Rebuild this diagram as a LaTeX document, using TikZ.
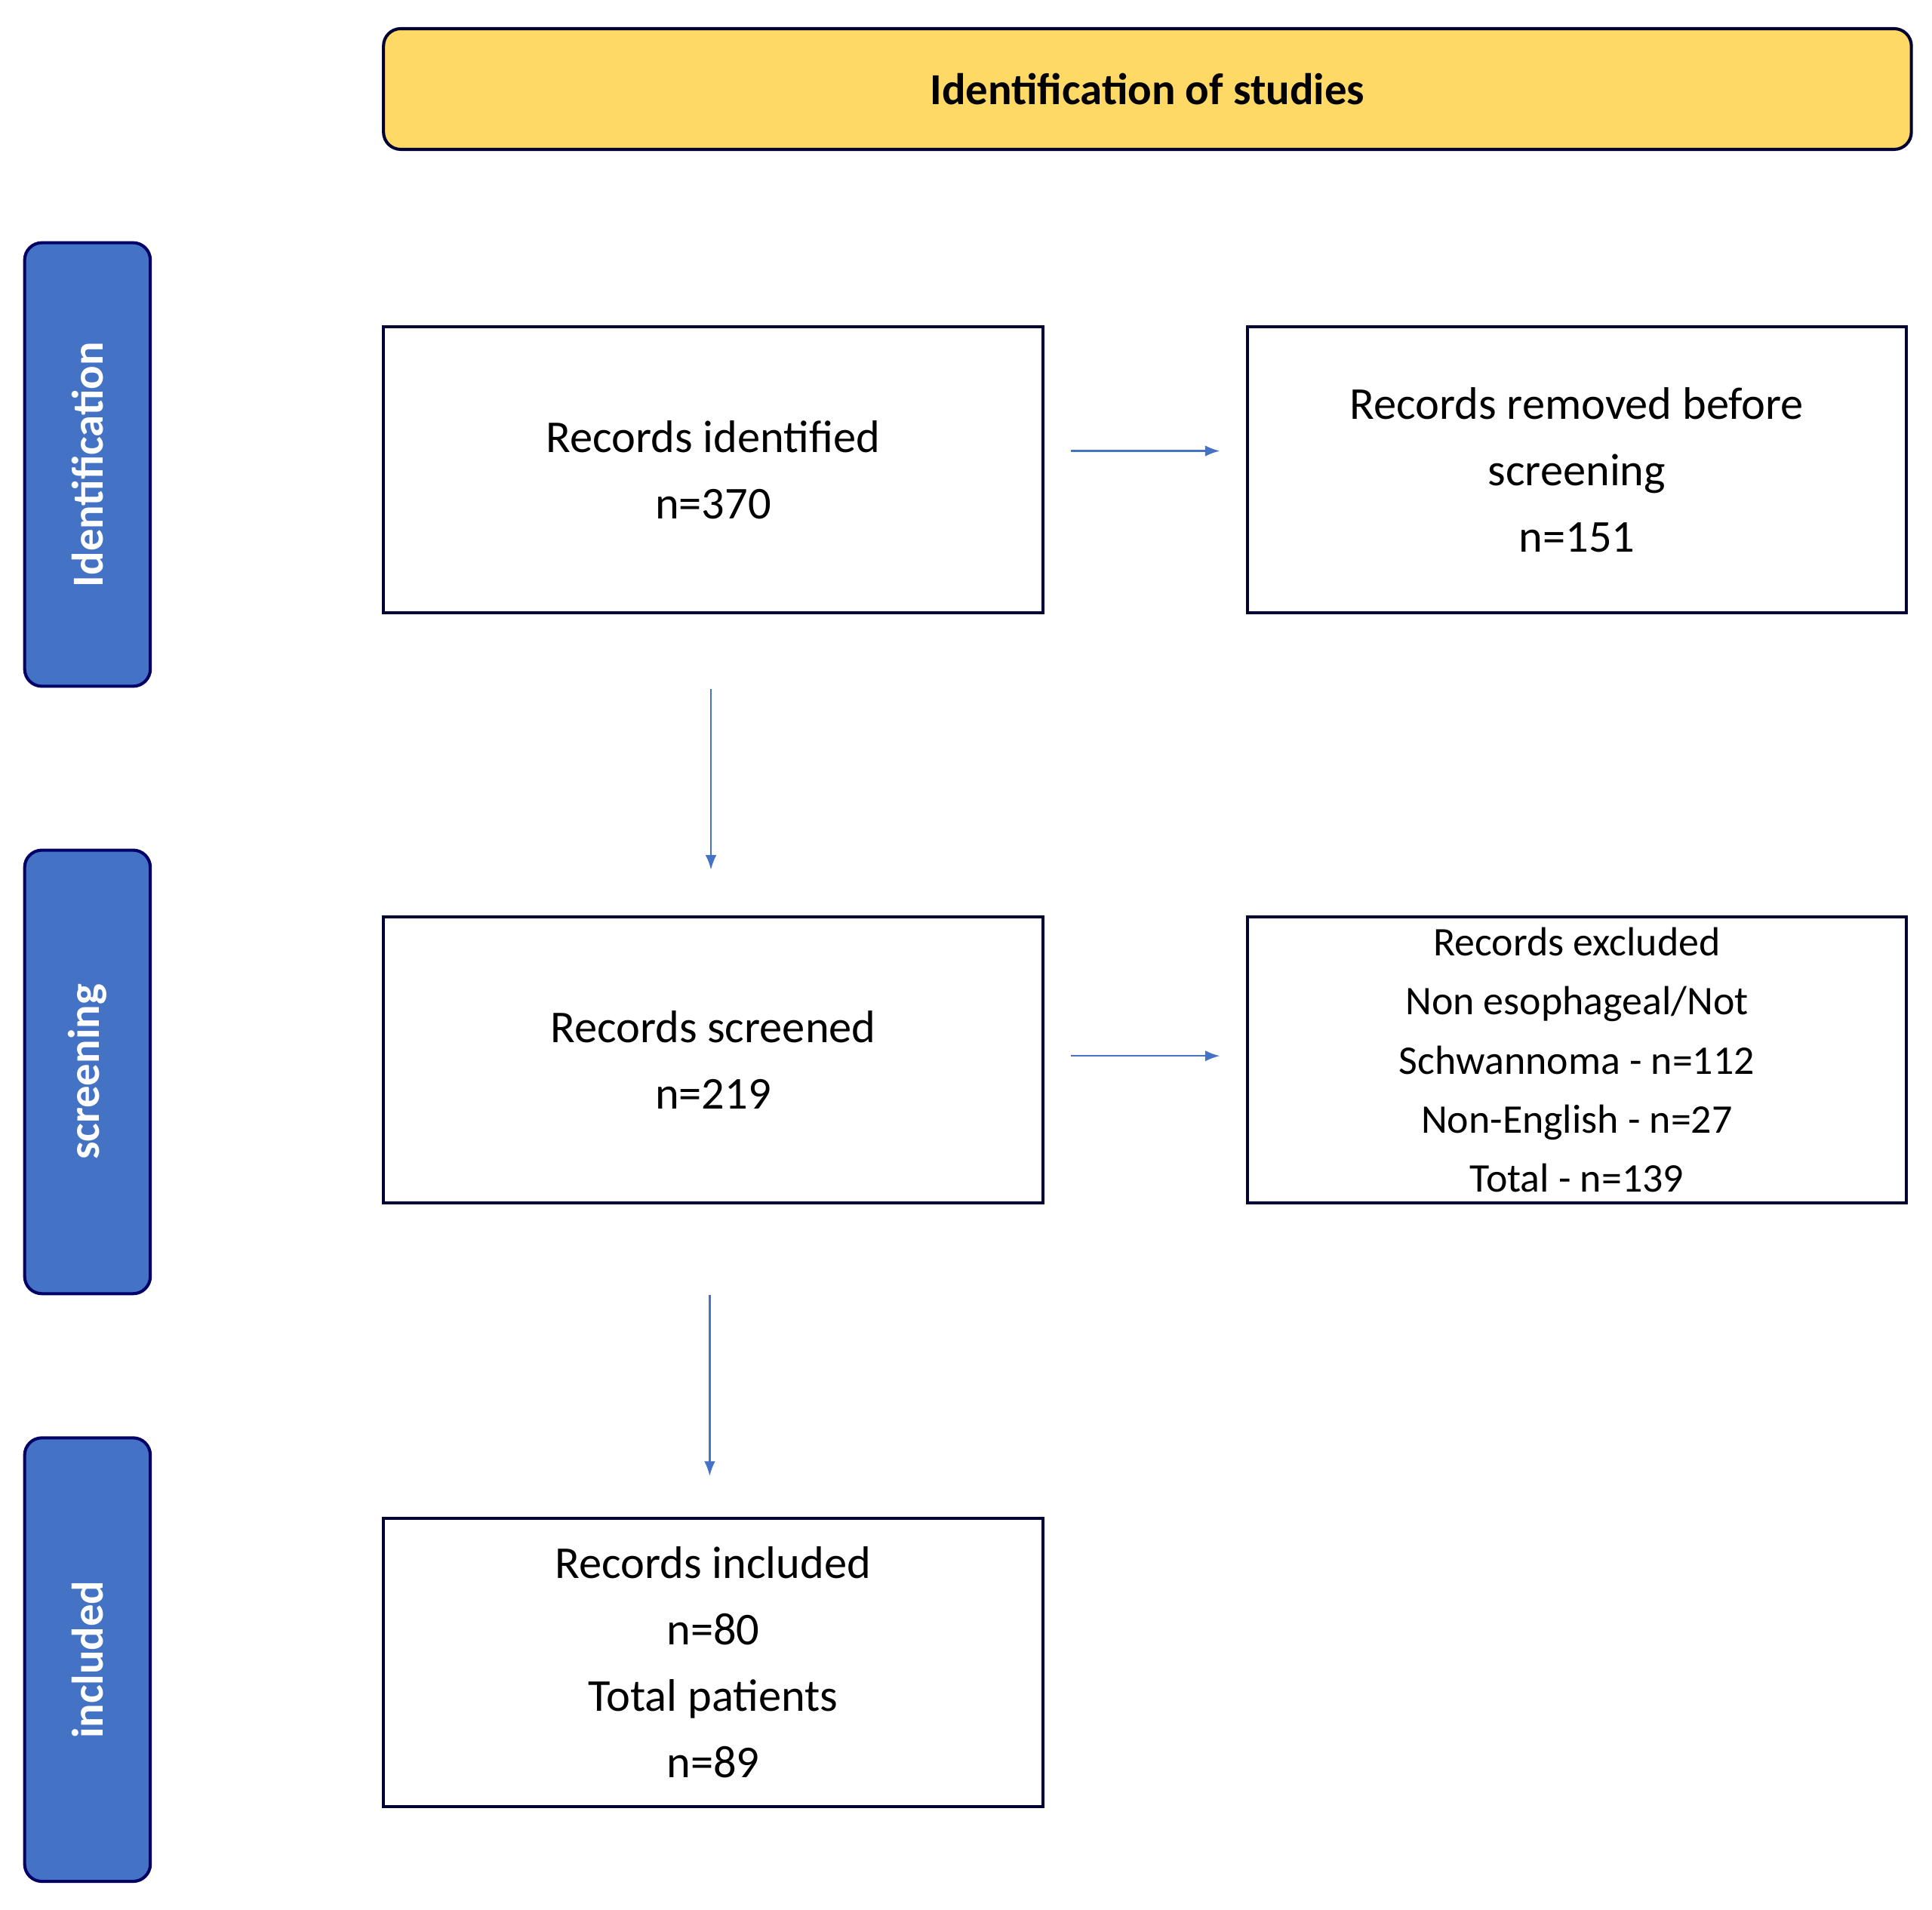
\documentclass[tikz,border=0pt]{standalone}
\usepackage{fontspec}
\setmainfont{Carlito}
\begin{document}
\begin{tikzpicture}[x=1pt,y=-1pt,
  box/.style={draw=black!80!blue,line width=2.5pt,minimum width=535pt,minimum height=232pt,align=center,font=\fontsize{37}{54}\selectfont,anchor=north west},
  side/.style={draw=blue!40!black,line width=2.5pt,fill=sideblue,rounded corners=14pt,minimum width=360pt,minimum height=102pt,rotate=90,text=white,font=\fontsize{36}{40}\selectfont\bfseries},
  arr/.style={draw=sideblue,line width=1.5pt,-{Latex[length=12pt,width=9pt]}}]
\definecolor{sideblue}{HTML}{4472C4}
\definecolor{titley}{HTML}{FFD966}
\usetikzlibrary{arrows.meta}
\useasboundingbox (0,0) rectangle (1568,1550);
\node[draw=black!80!blue,line width=2.5pt,fill=titley,rounded corners=14pt,minimum width=1240pt,minimum height=98pt,anchor=north west,font=\fontsize{36}{40}\selectfont\bfseries] (title) at (310,22) {Identification of studies};
\node[side] (s1) at (71,377) {Identification};
\node[side] (s2) at (71,870) {screening};
\node[side] (s3) at (71,1347) {included};
\node[box] (b1) at (310,264) {Records identified\\n=370};
\node[box] (b2) at (1011,264) {Records removed before\\screening\\n=151};
\node[box] (b3) at (310,743) {Records screened\\n=219};
\node[box,font=\fontsize{33}{48}\selectfont] (b4) at (1011,743) {Records excluded\\Non esophageal/Not\\Schwannoma - n=112\\Non-English - n=27\\Total - n=139};
\node[box,minimum height=234pt] (b5) at (310,1231) {Records included\\n=80\\Total patients\\n=89};
\coordinate (a1s) at (869,366); \coordinate (a1e) at (990,366);
\coordinate (a2s) at (869,857); \coordinate (a2e) at (990,857);
\coordinate (a3s) at (577,559); \coordinate (a3e) at (577,706);
\coordinate (a4s) at (576,1051); \coordinate (a4e) at (576,1198);
\draw[arr] (a1s) -- (a1e);
\draw[arr] (a2s) -- (a2e);
\draw[arr] (a3s) -- (a3e);
\draw[arr] (a4s) -- (a4e);
\end{tikzpicture}
\end{document}
